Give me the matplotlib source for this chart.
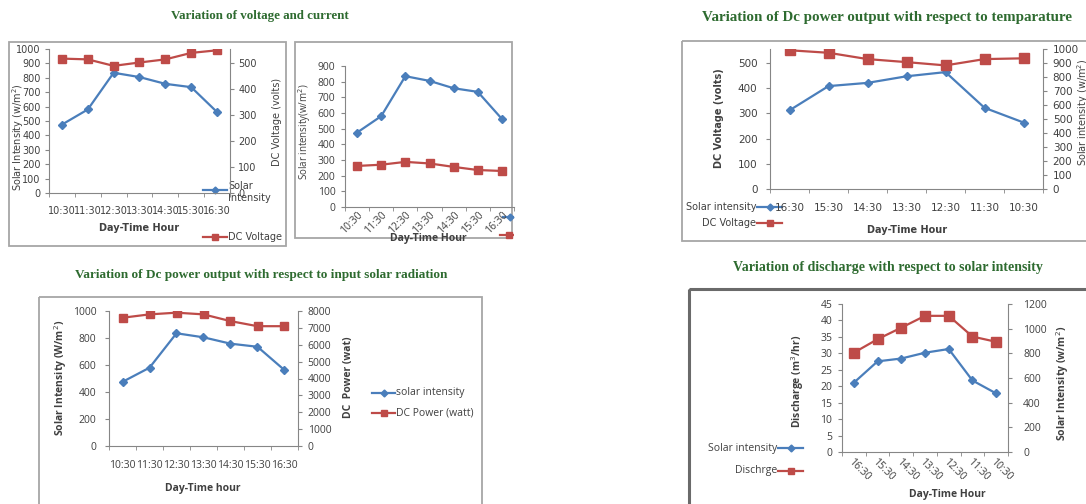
import matplotlib
matplotlib.use("Agg")
import matplotlib.pyplot as plt
from matplotlib.patches import Rectangle
from matplotlib.lines import Line2D

# ---- data -------------------------------------------------------------
times = ['10:30', '11:30', '12:30', '13:30', '14:30', '15:30', '16:30']
solar_intensity = [475, 580, 835, 805, 758, 735, 562]       # W/m^2
dc_voltage = [518, 515, 490, 503, 515, 540, 550]            # volts
dc_current = [262, 270, 288, 278, 256, 236, 230]
dc_power = [7600, 7800, 7900, 7800, 7400, 7100, 7100]       # watt
discharge = [33.5, 35.1, 41.4, 41.4, 37.8, 34.3, 30.2]      # m^3/hr

# ---- styling ----------------------------------------------------------
BLUE = '#4a7ebb'
RED = '#be4b48'
AXC = '#868686'
TXT = '#404040'
GREEN = '#2e6b30'
W, H = 1086, 504

fig = plt.figure(figsize=(W / 100, H / 100), dpi=100)
fig.patch.set_facecolor('white')

# overlay in pixel coordinates for frames, titles and legends
ov = fig.add_axes([0, 0, 1, 1], zorder=0)
ov.set_xlim(0, W)
ov.set_ylim(H, 0)
ov.axis('off')


def box(l, t, r, b):
    return [l / W, 1 - b / H, (r - l) / W, (b - t) / H]


x = list(range(len(times)))


def excel_axes(ax, fs, family, left=True, right=False, xpad=8, ypad=3,
               xlabels=None, rot=0, reverse=False):
    ax.set_facecolor('none')
    for s in ('top', 'right', 'left', 'bottom'):
        ax.spines[s].set_visible(False)
    if left:
        ax.spines['left'].set_visible(True)
        ax.spines['left'].set_color(AXC)
    if right:
        ax.spines['right'].set_visible(True)
        ax.spines['right'].set_color(AXC)
    ax.tick_params(axis='y', length=3, color=AXC, direction='out',
                   labelsize=fs, labelcolor=TXT, pad=ypad)
    for lab in ax.get_yticklabels():
        lab.set_family(family)
    if xlabels is not None:
        ax.spines['bottom'].set_visible(True)
        ax.spines['bottom'].set_color(AXC)
        ax.set_xlim((6.5, -0.5) if reverse else (-0.5, 6.5))
        ax.set_xticks(x)
        ax.set_xticks([i - 0.5 for i in range(len(times) + 1)], minor=True)
        if rot > 0:
            ax.set_xticklabels(xlabels, rotation=rot, ha='right', va='top',
                               rotation_mode='anchor', family=family)
        elif rot < 0:
            ax.set_xticklabels(xlabels, rotation=rot, ha='left', va='top',
                               rotation_mode='anchor', family=family)
        else:
            ax.set_xticklabels(xlabels, family=family)
        ax.tick_params(axis='x', which='major', length=0, pad=xpad,
                       labelsize=fs, labelcolor=TXT)
        ax.tick_params(axis='x', which='minor', length=3, color=AXC,
                       direction='out')


def frame(l, t, r, b, color='#a6a6a6', lw=1.3, clip=None):
    rect = Rectangle((l, t), r - l, b - t, fill=False, ec=color, lw=lw)
    ov.add_patch(rect)
    if clip is not None:
        rect.set_clip_path(clip)


def legend_entry(x0, x1, y, color, marker, ms, label, fs, family,
                 align='left', clip=None, tdy=0):
    ln = Line2D([x0, x1], [y, y], color=color, lw=1.6)
    mk = Line2D([(x0 + x1) / 2], [y], color=color, marker=marker, ms=ms, lw=0)
    ov.add_line(ln)
    ov.add_line(mk)
    if align == 'left':
        t = ov.text(x1 + 1, y + tdy, label, fontsize=fs, family=family,
                    color=TXT, ha='left', va='center')
    else:
        t = ov.text(x0 - 1, y + tdy, label, fontsize=fs, family=family,
                    color=TXT, ha='right', va='center')
    if clip is not None:
        for a in (ln, mk, t):
            a.set_clip_on(True)
            a.set_clip_path(clip)


def title(xc, y, s, fs):
    ov.text(xc, y, s, fontsize=fs, family='Liberation Serif', weight='bold',
            color=GREEN, ha='center', va='center')


def side_label(xc, yc, s, fs, family, bold=False):
    ov.text(xc, yc, s, rotation=90, fontsize=fs, family=family,
            weight='bold' if bold else 'normal', color=TXT,
            ha='center', va='center')


def x_label(xc, yc, s, fs, family):
    ov.text(xc, yc, s, fontsize=fs, family=family, weight='bold',
            color=TXT, ha='center', va='center')


# ---- panel 1: voltage & intensity --------------------------------------
title(260, 16, 'Variation of voltage and current', 9.4)
frame(9, 42, 286, 246)
ax1 = fig.add_axes(box(49, 49, 230, 193))
ax1.plot(x, solar_intensity, color=BLUE, marker='D', ms=4.5, lw=1.6)
ax1.set_ylim(0, 1000)
ax1.set_yticks(range(0, 1001, 100))
ax1r = ax1.twinx()
ax1r.plot(x, dc_voltage, color=RED, marker='s', ms=6, lw=1.6)
ax1r.set_ylim(0, 555)
ax1r.set_yticks(range(0, 501, 100))
excel_axes(ax1, 7, 'DejaVu Sans', xpad=9, xlabels=times)
excel_axes(ax1r, 7, 'DejaVu Sans', left=False, right=True, ypad=3)
side_label(18, 137, 'Solar Intensity (w/m$^2$)', 7, 'DejaVu Sans')
side_label(277, 122, 'DC Voltage (volts)', 7, 'DejaVu Sans')
x_label(139, 228, 'Day-Time Hour', 7, 'DejaVu Sans')
legend_entry(203, 227, 190, BLUE, 'D', 3.5, 'Solar\nIntensity', 7,
             'DejaVu Sans', tdy=2)
legend_entry(203, 227, 237, RED, 's', 5, 'DC Voltage', 7, 'DejaVu Sans')

# ---- panel 2: intensity & current -------------------------------------
clip2 = Rectangle((290, 38), 224, 205, transform=ov.transData)
frame(295, 42, 512, 238, clip=clip2)
ax2 = fig.add_axes(box(345, 66, 514, 207))
ax2.plot(x, solar_intensity, color=BLUE, marker='D', ms=4.5, lw=1.6)
ax2.plot(x, dc_current, color=RED, marker='s', ms=6, lw=1.6)
ax2.set_ylim(0, 900)
ax2.set_yticks(range(0, 901, 100))
excel_axes(ax2, 7.5, 'Open Sans', xpad=2, ypad=4, xlabels=times, rot=45)
side_label(305, 132, 'Solar intensity(w/m$^2$)', 7, 'Open Sans')
x_label(428, 239, 'Day-Time Hour', 7.5, 'Open Sans')
legend_entry(503, 517, 217, BLUE, 'D', 3.5, 'Solar intensity', 7,
             'Open Sans', clip=clip2)
legend_entry(500, 518, 235, RED, 's', 5, 'DC Current', 7,
             'Open Sans', clip=clip2)

# ---- panel 3: DC voltage against intensity (reversed time) ------------
title(887, 17, 'Variation of Dc power output with respect to temparature', 10.8)
frame(682, 41, 1092, 241)
ax3 = fig.add_axes(box(770, 49, 1043, 189), zorder=2)
ax3.plot(x, dc_voltage, color=RED, marker='s', ms=7, lw=1.6, zorder=3)
ax3.set_ylim(0, 555)
ax3.set_yticks(range(0, 501, 100))
ax3r = ax3.twinx()
ax3r.set_zorder(1)
ax3r.plot(x, solar_intensity, color=BLUE, marker='D', ms=4.5, lw=1.6)
ax3r.set_ylim(0, 1000)
ax3r.set_yticks(range(0, 1001, 100))
excel_axes(ax3, 7.5, 'DejaVu Sans', xpad=10, ypad=6, xlabels=times,
           reverse=True)
excel_axes(ax3r, 7.5, 'DejaVu Sans', left=False, right=True, ypad=4)
side_label(719, 118, 'DC Voltage (volts)', 7, 'DejaVu Sans', bold=True)
side_label(1083, 112, 'Solar intensity (w/m$^2$)', 7, 'DejaVu Sans')
x_label(907, 230, 'Day-Time Hour', 7, 'DejaVu Sans')
legend_entry(757, 782, 207, BLUE, 'D', 3.5, 'Solar intensity', 7,
             'DejaVu Sans', align='right')
legend_entry(757, 782, 223, RED, 's', 5, 'DC Voltage', 7,
             'DejaVu Sans', align='right')

# ---- panel 4: DC power against intensity ------------------------------
title(261, 275, 'Variation of Dc power output with respect to input solar radiation', 9.5)
frame(39, 297, 482, 512)
ax4 = fig.add_axes(box(109, 311, 298, 446))
ax4.plot(x, solar_intensity, color=BLUE, marker='D', ms=4.5, lw=1.6)
ax4.set_ylim(0, 1000)
ax4.set_yticks(range(0, 1001, 200))
ax4r = ax4.twinx()
ax4r.plot(x, dc_power, color=RED, marker='s', ms=6, lw=1.6)
ax4r.set_ylim(0, 8000)
ax4r.set_yticks(range(0, 8001, 1000))
excel_axes(ax4, 7.5, 'Open Sans', xpad=10, ypad=6, xlabels=times)
excel_axes(ax4r, 7.5, 'Open Sans', left=False, right=True, ypad=4)
side_label(61, 378, 'Solar Intensity (W/m$^2$)', 7.5, 'Open Sans', bold=True)
side_label(348, 377, 'DC  Power (wat)', 7.5, 'Open Sans', bold=True)
x_label(203, 488, 'Day-Time hour', 7.5, 'Open Sans')
legend_entry(372, 395, 393, BLUE, 'D', 3.5, 'solar intensity', 7.5, 'Open Sans')
legend_entry(372, 395, 413, RED, 's', 5, 'DC Power (watt)', 7.5, 'Open Sans')

# ---- panel 5: discharge against intensity (reversed time) -------------
title(888, 268, 'Variation of discharge with respect to solar intensity', 10)
frame(689, 289, 1092, 512, color='#6a6a6a', lw=2.2)
ax5 = fig.add_axes(box(842, 304, 1008, 452), zorder=2)
ax5.plot(x, discharge, color=RED, marker='s', ms=6.5, lw=1.6, zorder=3)
ax5.set_ylim(0, 45)
ax5.set_yticks(range(0, 46, 5))
ax5r = ax5.twinx()
ax5r.set_zorder(1)
ax5r.plot(x, solar_intensity, color=BLUE, marker='D', ms=4.5, lw=1.6)
ax5r.set_ylim(0, 1200)
ax5r.set_yticks(range(0, 1201, 200))
excel_axes(ax5, 7.5, 'Open Sans', xpad=3, ypad=4, xlabels=times, rot=-45,
           reverse=True)
excel_axes(ax5r, 7.5, 'Open Sans', left=False, right=True, ypad=8)
side_label(798, 381, 'Discharge (m$^3$/hr)', 7.5, 'Open Sans', bold=True)
side_label(1063, 383, 'Solar Intensity (w/m$^2$)', 7.5, 'Open Sans', bold=True)
x_label(947, 494, 'Day-Time Hour', 7.5, 'Open Sans')
legend_entry(778, 803, 448, BLUE, 'D', 3.5, 'Solar intensity', 7.5,
             'Open Sans', align='right')
legend_entry(778, 803, 471, RED, 's', 5, 'Dischrge', 7.5,
             'Open Sans', align='right')

fig.savefig('out.png', dpi=100)
